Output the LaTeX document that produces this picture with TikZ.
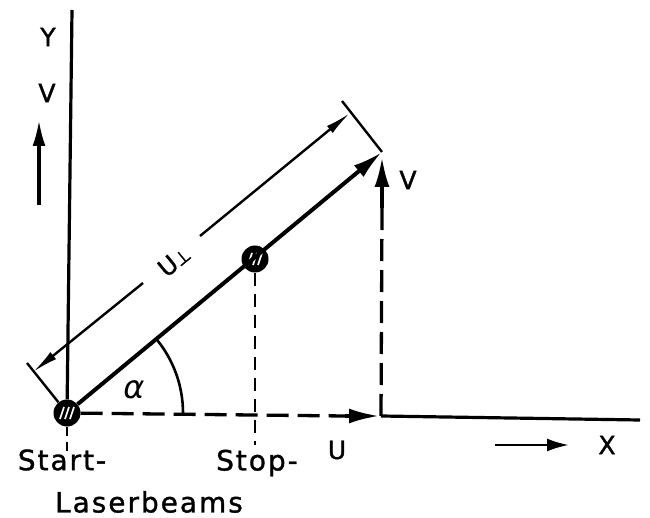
\documentclass[tikz,border=0pt]{standalone}
\usepackage{fontspec}
\setmainfont{DejaVu Sans}
\newfontfamily\labfont[LetterSpace=7, FakeBold=1.2]{DejaVu Sans}
\newfontfamily\smfont[FakeBold=1.5]{DejaVu Sans}
\usetikzlibrary{arrows.meta}
\begin{document}
\begin{tikzpicture}[x=1pt,y=-1pt,
  axisline/.style={line width=3.2pt},
  dashline/.style={line width=3.3pt, dash pattern=on 22pt off 9pt},
  shortdash/.style={line width=2.8pt, dash pattern=on 13pt off 8pt},
  dimline/.style={line width=2.4pt},
  bigtip/.style={-{Latex[length=30pt,width=15pt]}},
  dimtip/.style={-{Latex[length=26pt,width=9pt]}},
  biglbl/.style={font=\fontsize{28}{30}\selectfont\labfont, inner sep=0pt},
  smllbl/.style={font=\fontsize{25}{27}\selectfont\smfont, inner sep=0pt},
  hatchdot/.style={circle, fill=black, minimum size=27pt, inner sep=0pt,
    path picture={\foreach \dx in {-5,0,5}
      \draw[white, line width=1.7pt] ([xshift=\dx pt-2pt, yshift=-6pt]path picture bounding box.center) -- ++(4pt,12pt);}}]
\useasboundingbox (0,0) rectangle (650,518);

% named points
\node[hatchdot] (S) at (67,413) {};
\node[hatchdot] (P) at (255,259) {};
\coordinate (E) at (382,152);
\coordinate (C) at (381,416);
\coordinate (Ytop) at (72,10);
\coordinate (Xend) at (640,420);
\coordinate (Ua) at (345,416);
\coordinate (Utip) at (379,416);
\coordinate (Vb) at (382,208);
\coordinate (Vtip) at (382,157);
\coordinate (Pb) at (255,445);
\coordinate (Sb) at (67,452);
\coordinate (T1) at (27,363);
\coordinate (T2) at (342,101);
\coordinate (A) at (33,372);
\coordinate (B) at (350,113);
\coordinate (G1) at (143,283);
\coordinate (G2) at (200,236);
\coordinate (VLa) at (39,205);
\coordinate (VLb) at (39,120);
\coordinate (XAa) at (495,445);
\coordinate (XAb) at (569,445);

% axes
\draw[axisline] (Ytop) -- (S);
\draw[axisline] (C) -- (Xend);

% diagonal
\draw[line width=4pt, bigtip] (S) -- (E);

% components
\draw[dashline] (S) -- (Ua);
\draw[line width=3.3pt, bigtip] (Ua) -- (Utip);
\draw[dashline] (C) -- (Vb);
\draw[line width=3.6pt, bigtip] (Vb) -- (Vtip);

% drop lines
\draw[shortdash] (P) -- (Pb);
\draw[line width=2.8pt, dash pattern=on 9pt off 6pt] (S) -- (Sb);

% dimension
\draw[dimline] (S) -- (T1);
\draw[dimline] (E) -- (T2);
\draw[dimline, dimtip] (G1) -- (A);
\draw[dimline, dimtip] (G2) -- (B);
\node[font=\fontsize{24}{26}\selectfont\smfont, inner sep=0pt, rotate=39.5] (Ulab) at (174,261) {U{\fontsize{18}{18}\selectfont ⊥}};

% angle
\draw[line width=2.6pt] (S.center) ++(116,0) arc[start angle=0, end angle=39.5, radius=116pt];
\node[font=\fontsize{32}{34}\selectfont\itshape, inner sep=0pt] (alpha) at (134,390) {α};

% other arrows
\draw[axisline, -{Latex[length=26pt,width=13pt]}] (VLa) -- (VLb);
\draw[line width=2.6pt, -{Latex[length=22pt,width=13pt]}] (XAa) -- (XAb);

% labels
\node[smllbl] (Ylab) at (48,37) {Y};
\node[smllbl] (Vleft) at (47,93) {V};
\node[smllbl] (Vright) at (408,180) {V};
\node[smllbl] (Ulab2) at (337,450) {U};
\node[smllbl] (Xlab) at (607,445) {X};
\node[biglbl] (start) at (62,460) {Start-};
\node[biglbl] (stop) at (257,463) {Stop-};
\node[biglbl] (laser) at (149,502) {Laserbeams};
\end{tikzpicture}
\end{document}
